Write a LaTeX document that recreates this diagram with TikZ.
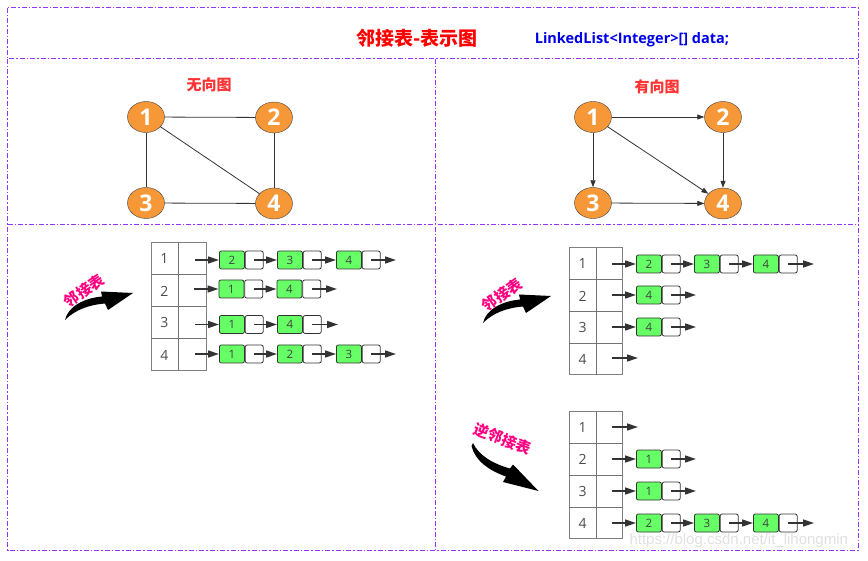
\documentclass[tikz,border=0pt]{standalone}
\usepackage{fontspec}
\setmainfont{Open Sans}
\newfontfamily\cjk{Noto Sans CJK SC}
\newfontfamily\wmfont{Liberation Sans}
\usetikzlibrary{arrows.meta,shapes.geometric}
\definecolor{dashpurple}{RGB}{153,51,255}
\definecolor{titlered}{RGB}{255,0,0}
\definecolor{gred}{RGB}{255,51,51}
\definecolor{codeblue}{RGB}{0,0,230}
\definecolor{vorange}{RGB}{247,152,56}
\definecolor{lgreen}{RGB}{102,255,102}
\definecolor{pinktxt}{RGB}{255,0,128}
\definecolor{darkline}{RGB}{51,51,51}
\tikzset{
  panel/.style={draw=dashpurple, line width=1pt, dash pattern=on 5pt off 2pt on 1.5pt off 2pt},
  vert/.style={ellipse, draw=black!75, fill=vorange, minimum width=37pt, minimum height=31pt, inner sep=0pt, text=white, font=\bfseries\fontsize{23}{23}\selectfont},
  gedge/.style={draw=darkline, line width=0.8pt},
  dedge/.style={gedge, -{Triangle[length=7pt,width=5pt]}},
  gtitle/.style={text=gred, font=\cjk\bfseries\fontsize{15}{15}\selectfont},
  tabline/.style={draw=gray, line width=1pt},
  idx/.style={text=black!70, font=\fontsize{14}{14}\selectfont},
  gbox/.style={draw=darkline, fill=lgreen, rounded corners=2pt, minimum width=25pt, minimum height=18pt, inner sep=0pt, anchor=west, text=black!75, font=\fontsize{11.5}{11.5}\selectfont, line width=0.8pt},
  wbox/.style={draw=darkline, fill=white, rounded corners=2pt, minimum width=18pt, minimum height=18pt, inner sep=0pt, anchor=west, line width=0.8pt},
  larr/.style={draw=darkline, line width=1.5pt, -{Triangle[length=11pt,width=7pt]}},
  swtext/.style={text=pinktxt, font=\cjk\bfseries\fontsize{15}{15}\selectfont, inner sep=0pt},
  swoosh/.pic={
    \fill[black] (0,0) .. controls (3,-14) and (20,-22) .. (37,-23.5) -- (36,-28.5) -- (68,-27) -- (43,-10) -- (40,-16.5) .. controls (23,-15) and (10,-10) .. (0,0) -- cycle;
  }
}
\begin{document}
\begin{tikzpicture}[x=1pt,y=-1pt]
\useasboundingbox (0,0) rectangle (868,561);
% panels
\draw[panel] (7.5,8) rectangle (858.5,59);
\draw[panel] (7.5,59) rectangle (858.5,550);
\draw[panel] (435.5,59) -- (435.5,550);
\draw[panel] (7.5,225) -- (858.5,225);
% titles
\node[text=titlered, font=\cjk\bfseries\fontsize{19}{19}\selectfont] (title) at (417,38.5) {邻接表-表示图};
\node[text=codeblue, font=\bfseries\fontsize{14.5}{14.5}\selectfont] (code) at (632,40) {LinkedList<Integer>[] data;};
% undirected graph
\node[gtitle] (ut) at (209,85) {无向图};
\node[vert] (u1) at (146,117) {1};
\node[vert] (u2) at (274,117.5) {2};
\node[vert] (u3) at (146,203) {3};
\node[vert] (u4) at (274,203.5) {4};
\draw[gedge] (u1) -- (u2);
\draw[gedge] (u1) -- (u3);
\draw[gedge] (u1) -- (u4);
\draw[gedge] (u2) -- (u4);
\draw[gedge] (u3) -- (u4);
% directed graph
\node[gtitle] (dt) at (657,86.5) {有向图};
\node[vert] (d1) at (593,117) {1};
\node[vert] (d2) at (723,117) {2};
\node[vert] (d3) at (593,203) {3};
\node[vert] (d4) at (723,203.5) {4};
\draw[dedge] (d1) -- (d2);
\draw[dedge] (d1) -- (d3);
\draw[dedge] (d1) -- (d4);
\draw[dedge] (d2) -- (d4);
\draw[dedge] (d3) -- (d4);
% swooshes
\pic (sw1) at (65,320) {swoosh};
\node[swtext, rotate=35] (sw1t) at (84,291) {邻接表};
\pic (sw2) at (483,323) {swoosh};
\node[swtext, rotate=35] (sw2t) at (502,295) {邻接表};
\fill[black] (473,443) .. controls (479,456) and (494,464) .. (510,468.5) -- (513,464.5) -- (538.5,491) -- (503,482) -- (506,476.5) .. controls (490,471) and (475,461) .. (471.5,446) -- cycle;
\node[swtext, rotate=-21] (sw3t) at (503,439) {逆邻接表};
% ---------- left table ----------
\draw[tabline] (151,243) rectangle (206,371);
\draw[tabline, draw=black!55] (178,243) -- (178,371);
\foreach \yy in {275,307,339} \draw[tabline, draw=black!55] (151,\yy) -- (206,\yy);
\node[idx] (la1) at (164.5,259) {1};
\node[idx] (la2) at (164.5,291) {2};
\node[idx] (la3) at (164.5,323) {3};
\node[idx] (la4) at (164.5,355) {4};
% row 1
\coordinate (a1s) at (195,260);
\node[gbox] (a1g1) at (219,260) {2}; \node[wbox] (a1w1) at (a1g1.east) {};
\node[gbox] (a1g2) at (277,260) {3}; \node[wbox] (a1w2) at (a1g2.east) {};
\node[gbox] (a1g3) at (336,260) {4}; \node[wbox] (a1w3) at (a1g3.east) {};
\coordinate (a1e) at (396,260);
\draw[larr] (a1s) -- (a1g1.west);
\draw[larr] (a1w1.center) -- (a1g2.west);
\draw[larr] (a1w2.center) -- (a1g3.west);
\draw[larr] (a1w3.center) -- (a1e);
% row 2
\coordinate (a2s) at (194,289);
\node[gbox] (a2g1) at (218.5,289) {1}; \node[wbox] (a2w1) at (a2g1.east) {};
\node[gbox] (a2g2) at (276.5,289) {4}; \node[wbox] (a2w2) at (a2g2.east) {};
\coordinate (a2e) at (337,289);
\draw[larr] (a2s) -- (a2g1.west);
\draw[larr] (a2w1.center) -- (a2g2.west);
\draw[larr] (a2w2.center) -- (a2e);
% row 3
\coordinate (a3s) at (195,324.5);
\node[gbox] (a3g1) at (219,324.5) {1}; \node[wbox] (a3w1) at (a3g1.east) {};
\node[gbox] (a3g2) at (277,324.5) {4}; \node[wbox] (a3w2) at (a3g2.east) {};
\coordinate (a3e) at (338,324.5);
\draw[larr] (a3s) -- (a3g1.west);
\draw[larr] (a3w1.center) -- (a3g2.west);
\draw[larr] (a3w2.center) -- (a3e);
% row 4
\coordinate (a4s) at (195,354);
\node[gbox] (a4g1) at (219,354) {1}; \node[wbox] (a4w1) at (a4g1.east) {};
\node[gbox] (a4g2) at (277,354) {2}; \node[wbox] (a4w2) at (a4g2.east) {};
\node[gbox] (a4g3) at (336,354) {3}; \node[wbox] (a4w3) at (a4g3.east) {};
\coordinate (a4e) at (396,354);
\draw[larr] (a4s) -- (a4g1.west);
\draw[larr] (a4w1.center) -- (a4g2.west);
\draw[larr] (a4w2.center) -- (a4g3.west);
\draw[larr] (a4w3.center) -- (a4e);
% ---------- right table ----------
\draw[tabline] (569,248) rectangle (622,375);
\draw[tabline, draw=black!55] (596,248) -- (596,375);
\foreach \yy in {280,312,344} \draw[tabline, draw=black!55] (569,\yy) -- (622,\yy);
\node[idx] (ra1) at (582.5,264) {1};
\node[idx] (ra2) at (582.5,296) {2};
\node[idx] (ra3) at (582.5,328) {3};
\node[idx] (ra4) at (582.5,359.5) {4};
% row 1
\coordinate (b1s) at (612,264);
\node[gbox] (b1g1) at (636,264) {2}; \node[wbox] (b1w1) at (b1g1.east) {};
\node[gbox] (b1g2) at (694,264) {3}; \node[wbox] (b1w2) at (b1g2.east) {};
\node[gbox] (b1g3) at (753,264) {4}; \node[wbox] (b1w3) at (b1g3.east) {};
\coordinate (b1e) at (814,264);
\draw[larr] (b1s) -- (b1g1.west);
\draw[larr] (b1w1.center) -- (b1g2.west);
\draw[larr] (b1w2.center) -- (b1g3.west);
\draw[larr] (b1w3.center) -- (b1e);
% row 2
\coordinate (b2s) at (612,295);
\node[gbox] (b2g1) at (636,295) {4}; \node[wbox] (b2w1) at (b2g1.east) {};
\coordinate (b2e) at (696,295);
\draw[larr] (b2s) -- (b2g1.west);
\draw[larr] (b2w1.center) -- (b2e);
% row 3
\coordinate (b3s) at (612,327);
\node[gbox] (b3g1) at (636,327) {4}; \node[wbox] (b3w1) at (b3g1.east) {};
\coordinate (b3e) at (696,327);
\draw[larr] (b3s) -- (b3g1.west);
\draw[larr] (b3w1.center) -- (b3e);
% row 4
\coordinate (b4s) at (612,358);
\coordinate (b4e) at (638,358);
\draw[larr] (b4s) -- (b4e);
% ---------- inverse table ----------
\draw[tabline] (569,412) rectangle (622,538.5);
\draw[tabline, draw=black!55] (596,412) -- (596,538.5);
\foreach \yy in {443.5,475,507} \draw[tabline, draw=black!55] (569,\yy) -- (622,\yy);
\node[idx] (ia1) at (582.5,427.5) {1};
\node[idx] (ia2) at (582.5,459) {2};
\node[idx] (ia3) at (582.5,491) {3};
\node[idx] (ia4) at (582.5,523) {4};
% row 1
\coordinate (c1s) at (612,427);
\coordinate (c1e) at (638,427);
\draw[larr] (c1s) -- (c1e);
% row 2
\coordinate (c2s) at (612,459);
\node[gbox] (c2g1) at (636,459) {1}; \node[wbox] (c2w1) at (c2g1.east) {};
\coordinate (c2e) at (696,459);
\draw[larr] (c2s) -- (c2g1.west);
\draw[larr] (c2w1.center) -- (c2e);
% row 3
\coordinate (c3s) at (612,491);
\node[gbox] (c3g1) at (636,491) {1}; \node[wbox] (c3w1) at (c3g1.east) {};
\coordinate (c3e) at (696,491);
\draw[larr] (c3s) -- (c3g1.west);
\draw[larr] (c3w1.center) -- (c3e);
% row 4
\coordinate (c4s) at (612,523);
\node[gbox] (c4g1) at (636,523) {2}; \node[wbox] (c4w1) at (c4g1.east) {};
\node[gbox] (c4g2) at (694,523) {3}; \node[wbox] (c4w2) at (c4g2.east) {};
\node[gbox] (c4g3) at (753,523) {4}; \node[wbox] (c4w3) at (c4g3.east) {};
\coordinate (c4e) at (814,523);
\draw[larr] (c4s) -- (c4g1.west);
\draw[larr] (c4w1.center) -- (c4g2.west);
\draw[larr] (c4w2.center) -- (c4g3.west);
\draw[larr] (c4w3.center) -- (c4e);
% watermark
\node[text=black!12, font=\wmfont\fontsize{15}{15}\selectfont, anchor=west] (wm) at (626,541) {https://blog.csdn.net/it\_lihongmin};
\end{tikzpicture}
\end{document}
